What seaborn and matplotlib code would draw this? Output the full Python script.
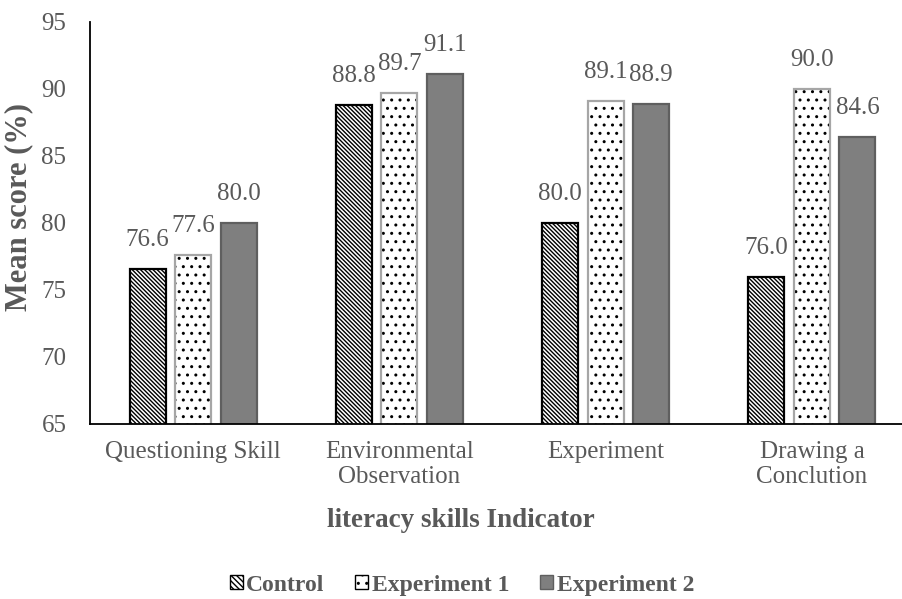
import matplotlib
matplotlib.use("Agg")
import matplotlib.pyplot as plt
import pandas as pd
import seaborn as sns
from matplotlib.patches import Patch, Rectangle

categories = ["Questioning Skill", "Environmental\nObservation", "Experiment", "Drawing a\nConclution"]
series = ["Control", "Experiment 1", "Experiment 2"]
control = [76.6, 88.8, 80.0, 76.0]
experiment_1 = [77.6, 89.7, 89.1, 90.0]
experiment_2 = [80.0, 91.1, 88.9, 86.4]
# labels as printed on the chart (the last one does not match its bar)
labels_control = ["76.6", "88.8", "80.0", "76.0"]
labels_exp1 = ["77.6", "89.7", "89.1", "90.0"]
labels_exp2 = ["80.0", "91.1", "88.9", "84.6"]

GRIS = "#595959"

df = pd.DataFrame({
    "indicateur": categories * 3,
    "groupe": [s for s in series for _ in categories],
    "score": control + experiment_1 + experiment_2,
})

sns.set_style("white")
plt.rcParams["font.family"] = ["Liberation Serif", "DejaVu Serif"]
plt.rcParams["hatch.linewidth"] = 1.0

fig = plt.figure(figsize=(9.02, 5.99), dpi=100)
ax = fig.add_axes([90 / 902, 1 - 424 / 599, 825 / 902, 402 / 599])

sns.barplot(data=df, x="indicateur", y="score", hue="groupe", order=categories,
            hue_order=series, width=0.663, gap=0.21, ax=ax, legend=False,
            errorbar=None)

# (fond, couleur hachure, motif, couleur du contour)
styles = [
    ("white", "black", "\\" * 8, "black"),
    ("white", "black", "..", "#a6a6a6"),
    ("#7f7f7f", "#5f5f5f", None, "#5f5f5f"),
]
for conteneur, (fond, hc, motif, contour) in zip(ax.containers, styles):
    for p in conteneur:
        p.set_facecolor(fond)
        p.set_edgecolor(hc)
        p.set_linewidth(0)
        if motif:
            p.set_hatch(motif)
        # contour dessine a part pour garder des hachures noires
        ax.add_patch(Rectangle((p.get_x(), p.get_y()), p.get_width(), p.get_height(),
                               facecolor="none", edgecolor=contour, lw=1.6, zorder=p.get_zorder() + 0.1))

for conteneur, lab in zip(ax.containers, [labels_control, labels_exp1, labels_exp2]):
    ax.bar_label(conteneur, labels=lab, padding=13, fontsize=18, color=GRIS)

ax.set_ylim(65, 95)
ax.set_yticks(range(65, 96, 5))
ax.set_xlim(-0.5, 3.5)
ax.tick_params(axis="both", length=0, labelsize=18, labelcolor=GRIS)
ax.tick_params(axis="y", pad=17)
ax.tick_params(axis="x", pad=12)
for t in ax.get_xticklabels():
    t.set_linespacing(1.2)

for cote in ["top", "right"]:
    ax.spines[cote].set_visible(False)
for cote in ["left", "bottom"]:
    ax.spines[cote].set_color("black")
    ax.spines[cote].set_linewidth(1.3)
ax.spines["bottom"].set_zorder(5)

ax.set_xlabel("literacy skills Indicator", fontsize=19.5, fontweight="bold", color=GRIS)
ax.set_ylabel("Mean score (%)", fontsize=22, fontweight="bold", color=GRIS)
ax.xaxis.set_label_coords(0.45, -0.209)
ax.yaxis.set_label_coords(-0.069, 0.54)

poignees = [
    Patch(facecolor="white", edgecolor="black", hatch="\\" * 6, label="Control"),
    Patch(facecolor="white", edgecolor="black", hatch="..", label="Experiment 1"),
    Patch(facecolor="#7f7f7f", edgecolor="#5f5f5f", label="Experiment 2"),
]
leg = fig.legend(handles=poignees, loc="center", bbox_to_anchor=(0.512, 0.023), ncol=3,
                 frameon=False, handlelength=0.55, handleheight=0.55, handletextpad=0.15,
                 columnspacing=1.3, prop={"family": "Liberation Serif", "weight": "bold", "size": 17})
for t in leg.get_texts():
    t.set_color(GRIS)

fig.savefig("out.png", dpi=100)
